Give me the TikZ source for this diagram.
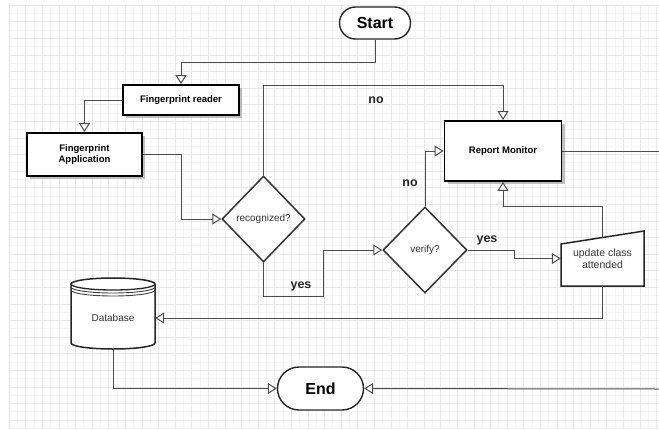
\documentclass[tikz,border=0pt]{standalone}
\usepackage{fontspec}
\setmainfont{Liberation Sans}
\usetikzlibrary{arrows.meta,shapes.geometric,shapes.misc,shadows,calc}
\begin{document}
\begin{tikzpicture}[x=1pt,y=-1pt,
  gmin/.style={draw=black!4,line width=0.5pt},
  gmaj/.style={draw=black!9,line width=0.6pt},
  box/.style={rectangle,draw=black,line width=1.8pt,fill=white,align=center,inner sep=0pt,
    font=\bfseries\fontsize{9.5}{11.5}\selectfont,
    drop shadow={shadow xshift=3pt,shadow yshift=-3pt,fill=black!35,opacity=0.7}},
  term/.style={rounded rectangle,draw=black!85,line width=1.4pt,fill=white,inner sep=0pt,
    font=\bfseries\fontsize{16}{18}\selectfont},
  dec/.style={diamond,draw=black!80,line width=1.5pt,fill=white,inner sep=0pt,
    font=\fontsize{10}{12}\selectfont,text=black!80},
  conn/.style={draw=black!70,line width=1pt},
  arr/.style={conn,-{Triangle[length=9pt,width=11pt,fill=white]}},
  lbl/.style={font=\bfseries\fontsize{12.5}{14}\selectfont,text=black!85},
  plain/.style={font=\fontsize{10.5}{12}\selectfont,text=black!80,align=center,inner sep=0pt}
]
\useasboundingbox (0,0) rectangle (659,429);
\fill[white] (0,0) rectangle (659,429);
\begin{scope}[shift={(9,5)}]
  \draw[gmin,step=8.3pt] (0,0) grid (650,424);
  \draw[gmaj,step=16.6pt] (0,0) grid (650,424);
\end{scope}

% nodes
\node[term,minimum width=71pt,minimum height=32pt] (start) at (375,23) {Start};
\node[box,minimum width=116pt,minimum height=30pt] (reader) at (181,100) {Fingerprint reader};
\node[box,minimum width=115pt,minimum height=43pt] (app) at (84.5,154.5) {Fingerprint\\Application};
\node[dec,minimum width=83pt,minimum height=86pt] (recog) at (263.5,219) {recognized?};
\node[dec,minimum width=84pt,minimum height=86pt] (verify) at (425,250) {verify?};
\node[box,minimum width=117pt,minimum height=60pt] (report) at (503,151) {Report Monitor};

% manual input shape
\filldraw[fill=white,draw=black!85,line width=1.5pt] (561,286) -- (644,286) -- (644,231) -- (561,244) -- cycle;
\node[plain,minimum width=83pt,minimum height=55pt] (update) at (602.5,258.5) {update class\\attended};

% database cylinder
\filldraw[fill=white,draw=black!85,line width=1.5pt]
  (71,284) -- (71,343) arc[start angle=180,end angle=360,x radius=42pt,y radius=6pt]
  -- (155,284) arc[start angle=0,end angle=180,x radius=42pt,y radius=6pt] -- cycle;
\draw[draw=black!85,line width=1.3pt] (71,284) arc[start angle=180,end angle=360,x radius=42pt,y radius=6pt];
\draw[draw=black!75,line width=0.9pt] (71,287) arc[start angle=180,end angle=360,x radius=42pt,y radius=6pt];
\draw[draw=black!75,line width=0.9pt] (71,290) arc[start angle=180,end angle=360,x radius=42pt,y radius=6pt];
\node[plain,font=\fontsize{10}{12}\selectfont,minimum width=84pt,minimum height=64pt] (db) at (113,318) {Database};

\node[term,minimum width=86pt,minimum height=43pt] (end) at (320.5,388.5) {End};

\coordinate (utop) at (602.5,237.5);
\coordinate (rmout) at (659,151);
\coordinate (endin) at (659,389);

% connectors
\draw[arr] (start.south) -- ++(0,23) -| (reader.north);
\draw[arr] (reader.west) -| (app.north);
\draw[arr] (app.east) -- ++(39,0) |- (recog.west);
\draw[arr] (recog.north) -- ++(0,-90) -| (report.north);
\draw[arr] (recog.south) -- ++(0,34) -- ++(60,0) |- (verify.west);
\draw[arr] (verify.north) |- (report.west);
\draw[arr] (verify.east) -- ++(47,0) |- (update.west);
\draw[arr] (utop) -- ++(0,-31) -| (report.south);
\draw[arr] (update.south) |- (db.east);
\draw[arr] (db.south) |- (end.west);
\draw[conn] (report.east) -- (rmout);
\draw[arr] (endin) -- (end.east);

% labels
\node[lbl] (lno1) at (376,100) {no};
\node[lbl] (lno2) at (410,183) {no};
\node[lbl] (lyes1) at (301,286) {yes};
\node[lbl] (lyes2) at (487,240) {yes};
\end{tikzpicture}
\end{document}
